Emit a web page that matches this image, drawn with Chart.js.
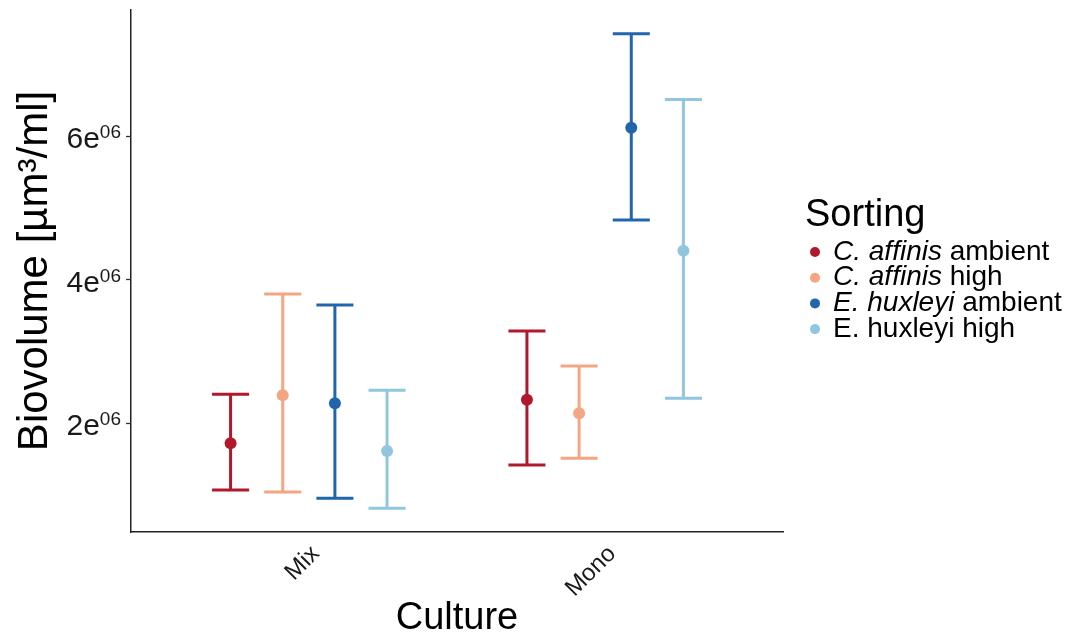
<!DOCTYPE html>
<html lang="en">
<head>
<meta charset="UTF-8">
<title>Biovolume by culture</title>
<script src="https://cdn.jsdelivr.net/npm/chart.js@4"></script>
<style>
  html, body { margin: 0; padding: 0; background: #fff; }
  #wrap { width: 1068px; height: 634px; position: relative; }
</style>
</head>
<body>
<div id="wrap"><canvas id="bioChart"></canvas></div>
<script>
// categories on the x axis
const cultures = ['Mix', 'Mono'];

// mean and error bar ends per sorting group (Mix, Mono)
const caAmbientMean = [1722000, 2326000];
const caAmbientLow  = [1070000, 1419000];
const caAmbientHigh = [2405000, 3284000];

const caHighMean = [2391000, 2140000];
const caHighLow  = [1042000, 1512000];
const caHighHigh = [3800000, 2796000];

const ehAmbientMean = [2280000, 6117000];
const ehAmbientLow  = [954000, 4833000];
const ehAmbientHigh = [3647000, 7428000];

const ehHighMean = [1614000, 4405000];
const ehHighLow  = [815000, 2349000];
const ehHighHigh = [2461000, 6511000];

// y ticks, shown as mantissa with a raised exponent
const yTicks = [2000000, 4000000, 6000000];
const yTickBase = ['2e', '4e', '6e'];
const yTickExp = ['06', '06', '06'];

const groups = [
    { label: 'C. affinis ambient', parts: [['C. affinis', true], [' ambient', false]], color: '#B2182B', mean: caAmbientMean, low: caAmbientLow, high: caAmbientHigh },
    { label: 'C. affinis high', parts: [['C. affinis', true], [' high', false]], color: '#F4A582', mean: caHighMean, low: caHighLow, high: caHighHigh },
    { label: 'E. huxleyi ambient', parts: [['E. huxleyi', true], [' ambient', false]], color: '#2166AC', mean: ehAmbientMean, low: ehAmbientLow, high: ehAmbientHigh },
    { label: 'E. huxleyi high', parts: [['E. huxleyi high', false]], color: '#92C5DE', mean: ehHighMean, low: ehHighLow, high: ehHighHigh }
];

const dodge = 0.176;   // spacing between groups within a culture
const capW = 0.125;    // error bar cap width in x units
const offsetOf = i => (i - 1.5) * dodge;

const FONT = "'Liberation Sans', Arial, sans-serif";

// error bars drawn under the points
const errorBars = {
    id: 'errorBars',
    beforeDatasetsDraw(chart) {
        const ctx = chart.ctx;
        const xs = chart.scales.x, ys = chart.scales.y;
        ctx.save();
        ctx.lineWidth = 3;
        ctx.lineCap = 'butt';
        groups.forEach((g, gi) => {
            ctx.strokeStyle = g.color;
            cultures.forEach((c, ci) => {
                const xv = ci + 1 + offsetOf(gi);
                const x = xs.getPixelForValue(xv);
                const xl = xs.getPixelForValue(xv - capW / 2);
                const xr = xs.getPixelForValue(xv + capW / 2);
                const yl = ys.getPixelForValue(g.low[ci]);
                const yh = ys.getPixelForValue(g.high[ci]);
                ctx.beginPath();
                ctx.moveTo(x, yl); ctx.lineTo(x, yh);
                ctx.moveTo(xl, yl); ctx.lineTo(xr, yl);
                ctx.moveTo(xl, yh); ctx.lineTo(xr, yh);
                ctx.stroke();
            });
        });
        ctx.restore();
    }
};

// y tick labels with superscript exponent
const yLabels = {
    id: 'yLabels',
    afterDraw(chart) {
        const ctx = chart.ctx;
        const ys = chart.scales.y;
        const xEnd = ys.right - 10;
        ctx.save();
        ctx.fillStyle = '#1a1a1a';
        ctx.textBaseline = 'alphabetic';
        ctx.textAlign = 'left';
        yTicks.forEach((v, i) => {
            const y = ys.getPixelForValue(v);
            ctx.font = '19px ' + FONT;
            const ew = ctx.measureText(yTickExp[i]).width;
            ctx.font = '30px ' + FONT;
            const bw = ctx.measureText(yTickBase[i]).width;
            ctx.fillText(yTickBase[i], xEnd - ew - bw, y + 12);
            ctx.font = '19px ' + FONT;
            ctx.fillText(yTickExp[i], xEnd - ew, y + 2);
        });
        ctx.restore();
    }
};

// legend with partly italic labels on the right
const sideLegend = {
    id: 'sideLegend',
    afterDraw(chart) {
        const ctx = chart.ctx;
        ctx.save();
        ctx.fillStyle = '#000';
        ctx.textBaseline = 'middle';
        ctx.textAlign = 'left';
        ctx.font = '38px ' + FONT;
        ctx.fillText('Sorting', 805, 216);
        groups.forEach((g, i) => {
            const y = 252 + i * 25.7;
            ctx.fillStyle = g.color;
            ctx.beginPath();
            ctx.arc(815, y, 5, 0, Math.PI * 2);
            ctx.fill();
            let x = 833;
            ctx.fillStyle = '#000';
            g.parts.forEach(([txt, it]) => {
                ctx.font = (it ? 'italic ' : '') + '28px ' + FONT;
                ctx.fillText(txt, x, y);
                x += ctx.measureText(txt).width;
            });
        });
        ctx.restore();
    }
};

new Chart(document.getElementById('bioChart'), {
    type: 'scatter',
    data: {
        datasets: groups.map((g, gi) => ({
            label: g.label,
            data: g.mean.map((m, ci) => ({ x: ci + 1 + offsetOf(gi), y: m })),
            backgroundColor: g.color,
            borderWidth: 0,
            pointRadius: 6,
            pointHoverRadius: 6
        }))
    },
    options: {
        responsive: true,
        maintainAspectRatio: false,
        animation: false,
        layout: { padding: { top: 10, right: 285, left: 0, bottom: 0 } },
        plugins: { legend: { display: false }, tooltip: { enabled: false } },
        scales: {
            x: {
                type: 'linear',
                min: 0.4,
                max: 2.6,
                afterBuildTicks: s => { s.ticks = cultures.map((c, i) => ({ value: i + 1 })); },
                afterFit: s => { s.height = 102; },
                grid: { drawOnChartArea: false, drawTicks: false },
                border: { color: '#222', width: 1.5 },
                ticks: {
                    autoSkip: false,
                    maxRotation: 45,
                    minRotation: 45,
                    padding: 8,
                    labelOffset: 7,
                    color: '#1a1a1a',
                    font: { family: FONT, size: 24 },
                    callback: v => cultures[v - 1]
                },
                title: {
                    display: true,
                    text: 'Culture',
                    color: '#000',
                    font: { family: FONT, size: 38, lineHeight: 1 },
                    padding: { top: 0, bottom: -4 }
                }
            },
            y: {
                min: 484000,
                max: 7759000,
                afterBuildTicks: s => { s.ticks = yTicks.map(v => ({ value: v })); },
                afterFit: s => { s.width = 131; },
                grid: { drawOnChartArea: false, tickLength: 5, color: '#333', tickWidth: 1.3 },
                border: { color: '#222', width: 1.5 },
                ticks: { display: false },
                title: {
                    display: true,
                    text: 'Biovolume [\u00b5m\u00b3/ml]',
                    color: '#000',
                    font: { family: FONT, size: 42, lineHeight: 1.2 },
                    padding: { top: 10, bottom: 0 }
                }
            }
        }
    },
    plugins: [errorBars, yLabels, sideLegend]
});
</script>
</body>
</html>
